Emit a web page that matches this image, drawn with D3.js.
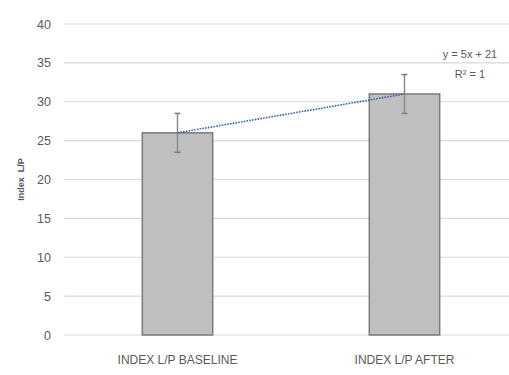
<!DOCTYPE html>
<html>
<head>
<meta charset="utf-8">
<script src="https://cdn.jsdelivr.net/npm/d3@7"></script>
<style>
  body { margin: 0; background: #fff; }
  svg { display: block; }
  text { font-family: "Liberation Sans Narrow", "Liberation Sans", sans-serif; fill: #595959; }
</style>
</head>
<body>
<div id="chart"></div>
<script>
// Dados
var categories = ["INDEX L/P BASELINE", "INDEX L/P AFTER"];
var values = [26, 31];
var errors = [2.5, 2.5];
var yTicks = [0, 5, 10, 15, 20, 25, 30, 35, 40];
var trendSlope = 5, trendIntercept = 21;
var trendLabel = ["y = 5x + 21", "R² = 1"];

(function () {
  'use strict';
  var W = 509, H = 375;
  var margin = {top: 24, right: -9, bottom: 40, left: 64};
  var width = W - margin.left - margin.right;
  var height = H - margin.top - margin.bottom;

  var svg = d3.select("#chart").append("svg")
    .attr("width", W).attr("height", H);
  var g = svg.append("g")
    .attr("transform", "translate(" + margin.left + "," + margin.top + ")");

  //Escalas
  var x = d3.scaleBand().domain(categories).range([0, width])
    .paddingInner(0.69).paddingOuter(0.345);
  var y = d3.scaleLinear().domain([0, 40]).range([height, 0]);

  //Grade
  g.selectAll(".grid").data(yTicks).enter().append("line")
    .attr("x1", 0).attr("x2", width)
    .attr("y1", function (d) { return y(d); })
    .attr("y2", function (d) { return y(d); })
    .attr("stroke", "#d9d9d9").attr("stroke-width", 1.2);

  //Eixo y
  var yAxis = g.append("g")
    .call(d3.axisLeft(y).tickValues(yTicks).tickSize(0).tickPadding(13));
  yAxis.select(".domain").remove();
  yAxis.selectAll("text").style("font-size", "12.5px").attr("fill", "#595959")
    .style("font-family", "'Liberation Sans Narrow', sans-serif");

  //Barras
  g.selectAll(".bar").data(values).enter().append("rect")
    .attr("x", function (d, i) { return x(categories[i]); })
    .attr("y", function (d) { return y(d); })
    .attr("width", x.bandwidth())
    .attr("height", function (d) { return height - y(d); })
    .attr("fill", "#bfbfbf").attr("stroke", "#7a7a7a").attr("stroke-width", 1.5);

  //Barras de erro
  var eb = g.selectAll(".err").data(values).enter().append("g")
    .attr("transform", function (d, i) {
      return "translate(" + (x(categories[i]) + x.bandwidth() / 2) + ",0)";
    });
  eb.append("line")
    .attr("y1", function (d, i) { return y(d + errors[i]); })
    .attr("y2", function (d, i) { return y(d - errors[i]); })
    .attr("stroke", "#8c8c8c").attr("stroke-width", 1.5);
  eb.append("line").attr("x1", -3).attr("x2", 3)
    .attr("y1", function (d, i) { return y(d + errors[i]); })
    .attr("y2", function (d, i) { return y(d + errors[i]); })
    .attr("stroke", "#7f7f7f").attr("stroke-width", 1.5);
  eb.append("line").attr("x1", -3).attr("x2", 3)
    .attr("y1", function (d, i) { return y(d - errors[i]); })
    .attr("y2", function (d, i) { return y(d - errors[i]); })
    .attr("stroke", "#7f7f7f").attr("stroke-width", 1.5);

  //Linha de tendência
  var trend = categories.map(function (c, i) {
    return [x(c) + x.bandwidth() / 2, y(trendSlope * (i + 1) + trendIntercept)];
  });
  g.append("path").datum(trend)
    .attr("d", d3.line())
    .attr("fill", "none").attr("stroke", "#3a5fa8")
    .attr("stroke-width", 1.6).attr("stroke-dasharray", "1.6,1.2");

  //Equação
  g.selectAll(".eq").data(trendLabel).enter().append("text")
    .attr("x", 470 - margin.left)
    .attr("y", function (d, i) { return 58 - margin.top + i * 20; })
    .attr("text-anchor", "middle")
    .style("font-size", "11px")
    .text(function (d) { return d; });

  //Eixo x
  g.selectAll(".xlab").data(categories).enter().append("text")
    .attr("x", function (d) { return x(d) + x.bandwidth() / 2; })
    .attr("y", height + 29)
    .attr("text-anchor", "middle")
    .style("font-size", "12px")
    .text(function (d) { return d; });

  //Título do eixo y
  svg.append("text")
    .attr("transform", "translate(24," + (margin.top + y(20)) + ") rotate(-90)")
    .attr("text-anchor", "middle")
    .style("font-size", "9px").style("font-weight", "bold")
    .style("white-space", "pre")
    .attr("fill", "#404040")
    .text("Index  L/P");
}());
</script>
</body>
</html>
